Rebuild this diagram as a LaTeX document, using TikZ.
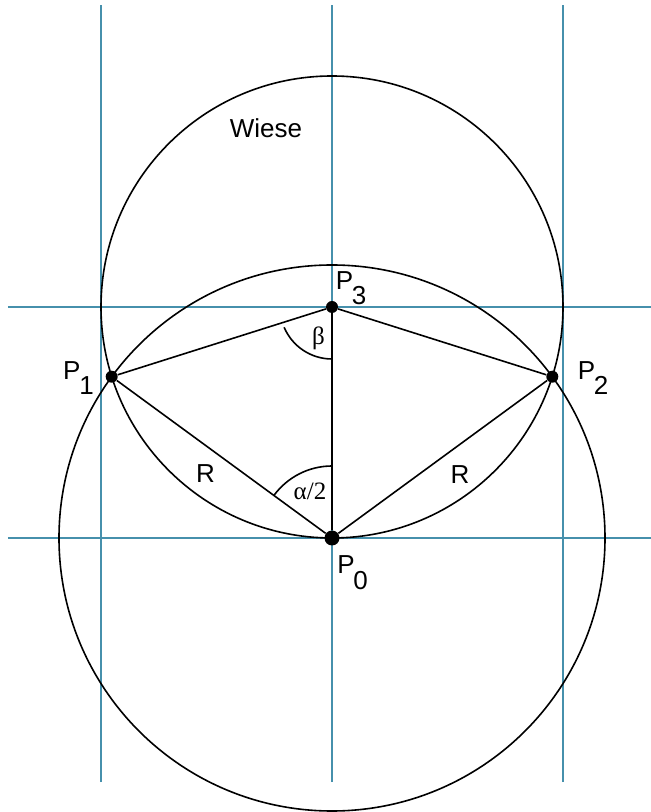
\documentclass[tikz,border=0pt]{standalone}
\usepackage{fontspec}
\setmainfont{Liberation Sans}
\newfontfamily\griech{Liberation Serif}
\usepackage{tikz}
\usetikzlibrary{positioning}
\definecolor{netzblau}{HTML}{4690AC}
\newcommand{\punkt}[1]{P\kern-0.05em\raisebox{-0.6em}{#1}}

\begin{document}
\begin{tikzpicture}[x=0.5pt, y=0.5pt,
  netz/.style={netzblau, line width=0.75pt},
  kante/.style={line width=0.8pt},
  punktdot/.style={circle, fill=black, inner sep=0pt, minimum size=6pt},
  lbl/.style={font=\fontsize{13}{15}\selectfont, inner sep=0pt},
  winkel/.style={font=\fontsize{12.5}{15}\selectfont\griech, inner sep=0pt}]
  \useasboundingbox (-332,-274) rectangle (319,538);
  % Hilfslinien
  \foreach \x in {-231,0,231}
    \draw[netz] (\x,-244) -- (\x,533);
  \foreach \y in {0,231}
    \draw[netz] (-324,\y) -- (319,\y);
  % Punkte
  \node[punktdot, minimum size=7.5pt] (p0) at (0,0) {};
  \node[punktdot] (p3) at (0,231) {};
  \node[punktdot] (p1) at (-220.3,161.3) {};
  \node[punktdot] (p2) at (220.3,161.3) {};
  % Kreise
  \draw[kante] (p0.center) circle[radius=273];
  \draw[kante] (p3.center) circle[radius=231];
  % Dreiecke
  \draw[kante] (p1) -- (p3);
  \draw[kante] (p3) -- (p2);
  \draw[kante] (p0) -- (p1);
  \draw[kante] (p0) -- (p2);
  \draw[line width=1.2pt] (p0) -- (p3);
  % Winkel
  \draw[kante] ([shift={(203:52)}]p3.center) arc[start angle=203, end angle=270, radius=52];
  \draw[kante] ([shift={(90:72)}]p0.center) arc[start angle=90, end angle=143.8, radius=72];
  \node[winkel] (beta) at (-13.5,200) {β};
  \node[winkel] (alpha) at (-22,46.5) {α/2};
  % Beschriftung
  \node[lbl] (wiese) at (-66,410) {Wiese};
  \node[lbl] (t0) at (20.5,-34.5) {\punkt{0}};
  \node[lbl] (t1) at (-253.5,160) {\punkt{1}};
  \node[lbl] (t2) at (261,160) {\punkt{2}};
  \node[lbl] (t3) at (19,250) {\punkt{3}};
  \node[lbl] (r1) at (-126.5,64.5) {R};
  \node[lbl] (r2) at (128,63) {R};
\end{tikzpicture}
\end{document}
